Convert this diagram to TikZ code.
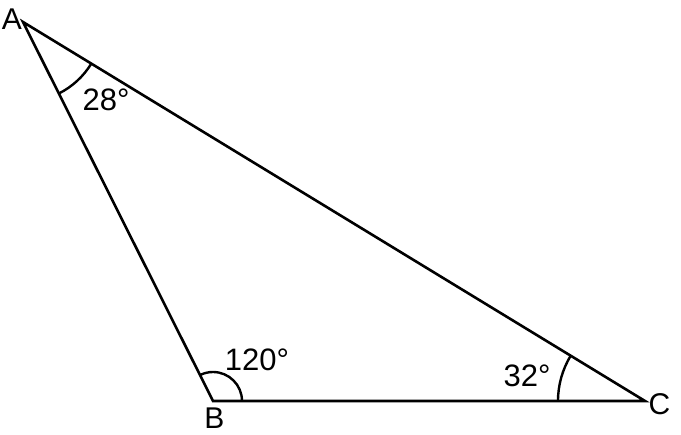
\documentclass[tikz,border=0pt]{standalone}
\usepackage{fontspec}
\setmainfont{Liberation Sans}
\usetikzlibrary{angles}
\begin{document}
\begin{tikzpicture}[x=1pt,y=1pt,
  side/.style={line width=2.6pt},
  arcmark/.style={draw,line width=2.4pt},
  vlbl/.style={font={\fontsize{30}{34}\selectfont},inner sep=0pt},
  albl/.style={font={\fontsize{31}{36}\selectfont},inner sep=0pt}]
\useasboundingbox (0,0) rectangle (681,435);
\coordinate (A) at (23,413);
\coordinate (B) at (213,34);
\coordinate (C) at (645,34);
\draw[side] (A) -- (B) -- (C) -- cycle;
\pic[arcmark, angle radius=80pt] {angle = B--A--C};
\pic[arcmark, angle radius=29pt] {angle = C--B--A};
\pic[arcmark, angle radius=87pt] {angle = A--C--B};
\node[vlbl] (la) at (12,416) {A};
\node[vlbl] (lb) at (214.5,17) {B};
\node[vlbl] (lc) at (659.5,31) {C};
\node[albl] (aa) at (106,335) {28°};
\node[albl] (ab) at (257,75) {120°};
\node[albl] (ac) at (527,59) {32°};
\end{tikzpicture}
\end{document}
